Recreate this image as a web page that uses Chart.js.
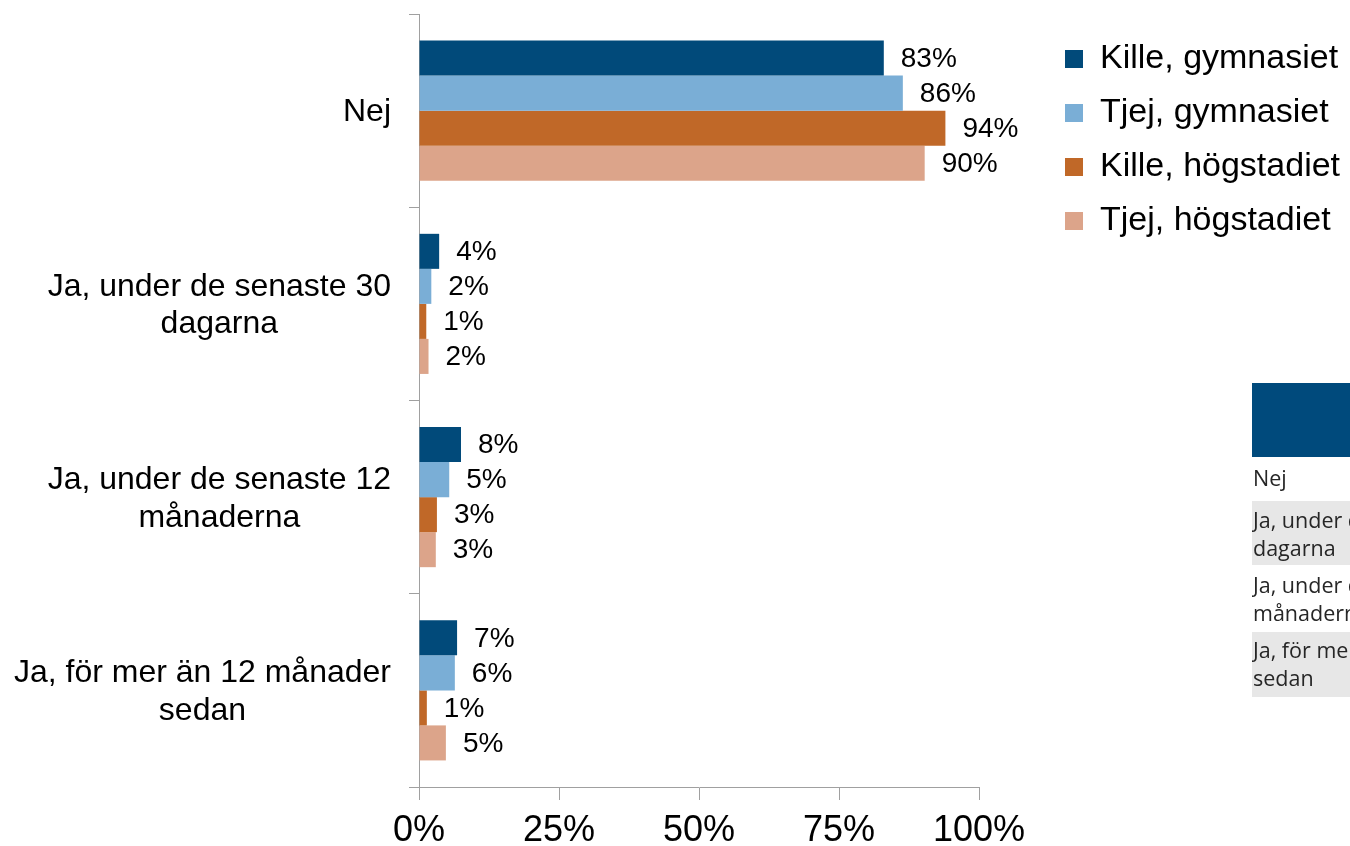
<!DOCTYPE html>
<html>
<head>
<meta charset="utf-8">
<script src="https://cdn.jsdelivr.net/npm/chart.js@4.4.1/dist/chart.umd.min.js"></script>
<style>
html, body { margin: 0; padding: 0; background: #fff; overflow: hidden; }
#wrap { position: relative; width: 1350px; height: 846px; }
#c { position: absolute; left: 0; top: 0; }
#tbl { position: absolute; left: 1252px; top: 383px; width: 98px; overflow: hidden;
       font-family: "Open Sans", "Noto Sans", sans-serif; font-size: 21.5px; line-height: 28px; color: #262626; }
#tbl .h { height: 74px; background: #004a7c; }
#tbl .r { white-space: nowrap; padding-left: 1px; box-sizing: border-box; }
#tbl .g { background: #e7e7e7; }
</style>
</head>
<body>
<div id="wrap">
  <canvas id="c" width="1350" height="846"></canvas>
  <div id="tbl">
    <div class="h"></div>
    <div class="r" style="height:44px;padding-top:7px">Nej</div>
    <div class="r g" style="height:64px;padding-top:5px">Ja, under de senaste 30<br>dagarna</div>
    <div class="r" style="height:67px;padding-top:6px">Ja, under de senaste 12<br>månaderna</div>
    <div class="r g" style="height:65px;padding-top:4px">Ja, för mer än 12 månader<br>sedan</div>
  </div>
</div>
<script>
// ---- data ----
const categories = [
  ["Nej"],
  ["Ja, under de senaste 30", "dagarna"],
  ["Ja, under de senaste 12", "månaderna"],
  ["Ja, för mer än 12 månader", "sedan"]
];
const seriesNames = ["Kille, gymnasiet", "Tjej, gymnasiet", "Kille, högstadiet", "Tjej, högstadiet"];
const killeGymnasiet  = [83.0, 3.6, 7.5, 6.8];
const tjejGymnasiet   = [86.4, 2.2, 5.4, 6.4];
const killeHogstadiet = [94.0, 1.3, 3.2, 1.4];
const tjejHogstadiet  = [90.3, 1.7, 3.0, 4.8];
const xTickValues = [0, 25, 50, 75, 100];
const seriesColors = ["#014a7a", "#7aaed6", "#c06828", "#dca48a"];

const FONT = '"Liberation Sans", Arial, sans-serif';
Chart.defaults.font.family = FONT;
Chart.defaults.color = '#000';

const axisGray = '#a0a0a0';

const customLabels = {
  id: 'customLabels',
  afterLayout(chart) {
    const lg = chart.legend;
    if (!lg) return;
    const dx = 1045 - lg.left;
    lg.left += dx; lg.right += dx;
    const dy = 8;
    lg.top += dy; lg.bottom += dy;
  },
  afterDraw(chart) {
    const ctx = chart.ctx;
    const ys = chart.scales.y;
    ctx.save();
    ctx.fillStyle = '#000';
    ctx.textBaseline = 'middle';
    ctx.textAlign = 'center';
    ctx.font = '32px ' + FONT;
    categories.forEach((lines, i) => {
      const cy = ys.getPixelForValue(i);
      const w = Math.max(...lines.map(l => ctx.measureText(l).width));
      const cx = ys.right - 10 - 18 - w / 2;
      lines.forEach((l, j) => {
        ctx.fillText(l, cx, cy + 2 + (j - (lines.length - 1) / 2) * 37.5);
      });
    });
    ctx.textAlign = 'left';
    ctx.font = '28px ' + FONT;
    chart.data.datasets.forEach((ds, di) => {
      const meta = chart.getDatasetMeta(di);
      meta.data.forEach((bar, i) => {
        ctx.fillText(Math.round(ds.data[i]) + '%', bar.x + 17, bar.y + 1);
      });
    });
    ctx.restore();
  }
};

const seriesData = [killeGymnasiet, tjejGymnasiet, killeHogstadiet, tjejHogstadiet];

new Chart(document.getElementById('c'), {
  type: 'bar',
  data: {
    labels: categories,
    datasets: seriesNames.map((name, i) => ({
      label: name,
      data: seriesData[i],
      backgroundColor: seriesColors[i],
      borderWidth: 0,
      barPercentage: 1.0,
      categoryPercentage: 0.725
    }))
  },
  options: {
    indexAxis: 'y',
    responsive: false,
    animation: false,
    layout: { padding: { top: 14, left: 0, right: 0, bottom: 0 } },
    plugins: {
      legend: {
        position: 'right',
        align: 'start',
        labels: {
          font: { family: FONT, size: 34 },
          color: '#000',
          boxWidth: 18,
          boxHeight: 18,
          padding: 20
        }
      },
      tooltip: { enabled: false }
    },
    scales: {
      x: {
        min: 0,
        max: 100,
        afterBuildTicks: s => { s.ticks = xTickValues.map(v => ({ value: v })); },
        ticks: {
          callback: v => v + '%',
          font: { size: 36 },
          color: '#000',
          padding: 9,
          maxRotation: 0,
          autoSkip: false
        },
        grid: { drawOnChartArea: false, drawTicks: true, tickLength: 13, color: axisGray },
        border: { color: axisGray, width: 1 },
        afterFit: s => { s.height = 59; s.paddingRight = 371; }
      },
      y: {
        ticks: { display: false },
        grid: { drawOnChartArea: false, drawTicks: true, tickLength: 10, color: axisGray, offset: true },
        border: { color: axisGray, width: 1 },
        afterFit: s => { s.width = 419; }
      }
    }
  },
  plugins: [customLabels]
});
</script>
</body>
</html>
